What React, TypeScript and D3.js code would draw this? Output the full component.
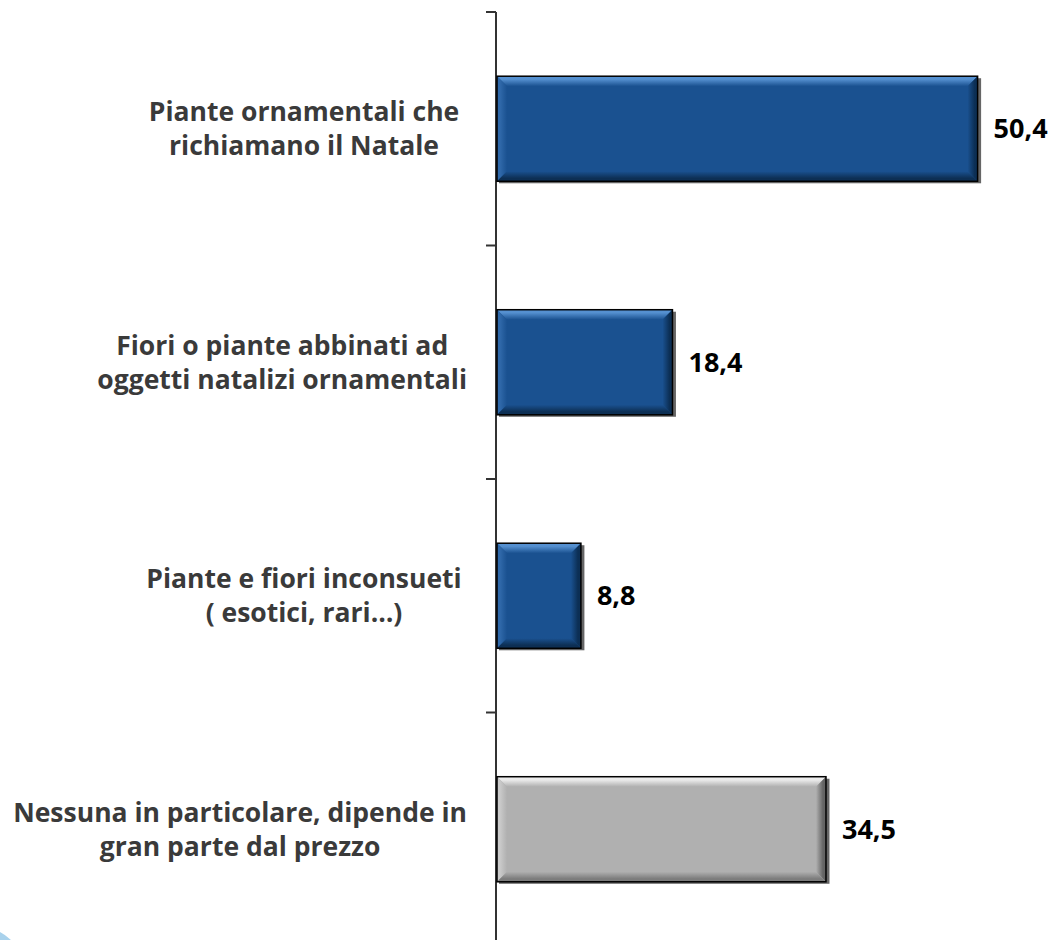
import { useEffect, useRef } from "react"
import * as d3 from "d3"

// category labels, one entry per line of the wrapped label
const categories = [
  "Piante ornamentali che richiamano il Natale",
  "Fiori o piante abbinati ad oggetti natalizi ornamentali",
  "Piante e fiori inconsueti ( esotici, rari…)",
  "Nessuna in particolare, dipende in gran parte dal prezzo",
]
const labelLines = [
  ["Piante ornamentali che", "richiamano il Natale"],
  ["Fiori o piante abbinati ad", "oggetti natalizi ornamentali"],
  ["Piante e fiori inconsueti", "( esotici, rari…)"],
  ["Nessuna in particolare, dipende in", "gran parte dal prezzo"],
]
const values = [50.4, 18.4, 8.8, 34.5]
const valueLabels = ["50,4", "18,4", "8,8", "34,5"]
const barKinds = ["blue", "blue", "blue", "gray"]

const palettes: Record<string, { face: string; top: string; left: string; right: string; bottom: string }> = {
  blue: { face: "#1a5190", top: "#5590d0", left: "#3069aa", right: "#0c2f55", bottom: "#0d2f54" },
  gray: { face: "#b0b0b0", top: "#ececec", left: "#cacaca", right: "#646464", bottom: "#7c7c7c" },
}

export default function App() {
  const svgRef = useRef<SVGSVGElement>(null)

  useEffect(() => {
    if (!svgRef.current) return
    const svg = d3.select(svgRef.current)
    svg.selectAll("*").remove()

    const height = 940
    const axisX = 496
    const font = "'Open Sans', 'DejaVu Sans', sans-serif"

    const x = d3.scaleLinear().domain([0, 56]).range([axisX + 1, axisX + 1 + 534])
    const y = d3
      .scaleBand<string>()
      .domain(categories)
      .range([12, 946])
      .paddingInner(0.55)
      .paddingOuter(0.275)

    const defs = svg.append("defs")
    // bevel gradients: each edge fades from its highlight/shade into the face
    Object.entries(palettes).forEach(([k, p]) => {
      const mk = (id: string, x2: number, y2: number, from: string, to: string, mid: number) => {
        const gr = defs
          .append("linearGradient")
          .attr("id", `${k}-${id}`)
          .attr("x1", 0)
          .attr("y1", 0)
          .attr("x2", x2)
          .attr("y2", y2)
        gr.append("stop").attr("offset", 0).attr("stop-color", from)
        gr.append("stop").attr("offset", mid).attr("stop-color", mid < 0.5 ? from : to)
        gr.append("stop").attr("offset", 1).attr("stop-color", to)
      }
      mk("top", 0, 1, p.top, p.face, 0.3)
      mk("left", 1, 0, p.left, p.face, 0.3)
      mk("right", 1, 0, p.face, p.right, 0.7)
      mk("bottom", 0, 1, p.face, p.bottom, 0.7)
    })

    // decorative logo fragment in the bottom-left corner
    svg.append("circle").attr("cx", -20).attr("cy", 970).attr("r", 43).attr("fill", "#a9d2ec")

    // axis line and tick marks at band boundaries
    svg
      .append("line")
      .attr("x1", axisX)
      .attr("x2", axisX)
      .attr("y1", y.range()[0])
      .attr("y2", height)
      .attr("stroke", "#333")
      .attr("stroke-width", 2)

    d3.range(categories.length + 1).forEach((i) => {
      const ty = y.range()[0] + i * y.step()
      svg
        .append("line")
        .attr("x1", axisX - 10)
        .attr("x2", axisX)
        .attr("y1", ty)
        .attr("y2", ty)
        .attr("stroke", "#333")
        .attr("stroke-width", 2)
    })

    const b = 10
    categories.forEach((c, i) => {
      const x0 = x(0)
      const x1 = x(values[i])
      const y0 = y(c)!
      const y1 = y0 + y.bandwidth()
      const k = barKinds[i]
      const p = palettes[k]
      const g = svg.append("g")

      // shadow
      g.append("rect")
        .attr("x", x0 + 2)
        .attr("y", y0 + 2)
        .attr("width", x1 - x0 + 1.5)
        .attr("height", y1 - y0)
        .attr("fill", "#000")
        .attr("opacity", 0.6)

      const poly = (pts: [number, number][], fill: string) =>
        g.append("polygon").attr("points", pts.map((d) => d.join(",")).join(" ")).attr("fill", fill)

      g.append("rect").attr("x", x0).attr("y", y0).attr("width", x1 - x0).attr("height", y1 - y0).attr("fill", p.face)
      poly([[x0, y0], [x1, y0], [x1 - b, y0 + b], [x0 + b, y0 + b]], `url(#${k}-top)`)
      poly([[x0, y0], [x0 + b, y0 + b], [x0 + b, y1 - b], [x0, y1]], `url(#${k}-left)`)
      poly([[x1, y0], [x1, y1], [x1 - b, y1 - b], [x1 - b, y0 + b]], `url(#${k}-right)`)
      poly([[x0, y1], [x0 + b, y1 - b], [x1 - b, y1 - b], [x1, y1]], `url(#${k}-bottom)`)

      g.append("rect")
        .attr("x", x0)
        .attr("y", y0)
        .attr("width", x1 - x0)
        .attr("height", y1 - y0)
        .attr("fill", "none")
        .attr("stroke", "#000")
        .attr("stroke-width", 1.5)

      // value label
      svg
        .append("text")
        .attr("x", x1 + 16)
        .attr("y", (y0 + y1) / 2)
        .attr("dy", "0.36em")
        .attr("font-family", font)
        .attr("font-weight", 700)
        .attr("font-size", 27)
        .attr("fill", "#000")
        .text(valueLabels[i])

      // category label: centred lines, block kept left of the axis
      const cy = (y0 + y1) / 2
      const lines = labelLines[i]
      const lineH = 34
      const t = svg
        .append("text")
        .attr("font-family", font)
        .attr("font-weight", 700)
        .attr("font-size", 26.5)
        .attr("fill", "#3a3a3a")
        .attr("text-anchor", "middle")
      const spans = lines.map((ln, j) =>
        t
          .append("tspan")
          .attr("y", cy + (j - (lines.length - 1) / 2) * lineH)
          .attr("dy", "0.36em")
          .text(ln)
      )
      const maxW = d3.max(spans, (s) => (s.node() as SVGTSpanElement).getComputedTextLength()) || 0
      const cx = Math.min(304, 467 - maxW / 2)
      spans.forEach((s) => s.attr("x", cx))
    })
  }, [])

  return (
    <svg
      ref={svgRef}
      width={1053}
      height={940}
      style={{ position: "absolute", left: 0, top: 0, background: "#fff" }}
    />
  )
}
